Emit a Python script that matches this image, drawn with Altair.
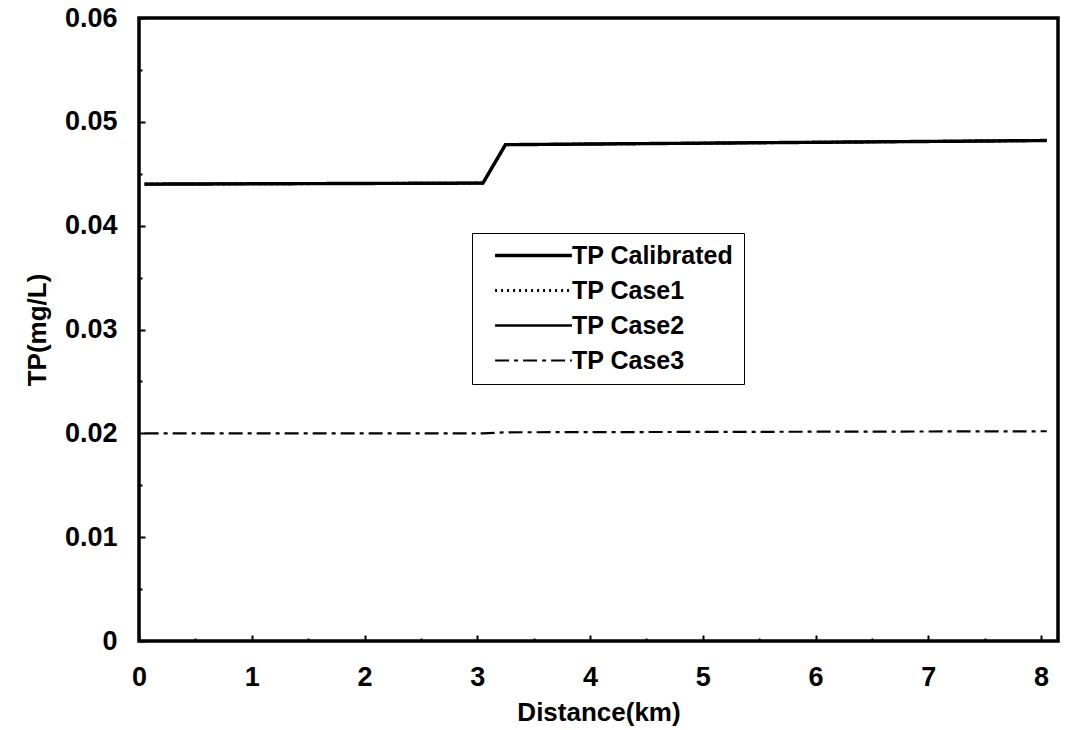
import altair as alt
import pandas as pd

# ---- data ----
distance_km = [0.05, 3.05, 3.25, 8.05]
tp_calibrated = [0.0440, 0.0441, 0.0478, 0.0482]
tp_case1 = [0.0440, 0.0441, 0.0478, 0.0482]
tp_case2 = [0.0440, 0.0441, 0.0478, 0.0482]
tp_case3 = [0.0200, 0.0200, 0.0201, 0.0202]
series_names = ["TP Calibrated", "TP Case1", "TP Case2", "TP Case3"]

x_tick_values = [0, 0.5, 1, 1.5, 2, 2.5, 3, 3.5, 4, 4.5, 5, 5.5, 6, 6.5, 7, 7.5, 8]
y_tick_values = [0, 0.005, 0.01, 0.015, 0.02, 0.025, 0.03, 0.035, 0.04, 0.045,
                 0.05, 0.055, 0.06]

series_values = {
    "TP Calibrated": tp_calibrated,
    "TP Case1": tp_case1,
    "TP Case2": tp_case2,
    "TP Case3": tp_case3,
}

rows = []
for order, name in enumerate(series_names):
    for d, v in zip(distance_km, series_values[name]):
        rows.append({"series": name, "distance": d, "tp": v, "ord": order})
df = pd.DataFrame(rows)

FONT = "Liberation Sans"

legend = alt.Legend(
    orient="none",
    legendX=333,
    legendY=215,
    title=None,
    symbolType="M-4.8,0H4.8",
    symbolSize=256,
    symbolStrokeColor="black",
    symbolOffset=39,
    labelOffset=26,
    labelLimit=400,
    labelFont=FONT,
    labelFontSize=25,
    labelFontWeight="bold",
    labelColor="black",
    rowPadding=9,
    padding=10,
    strokeColor="black",
    fillColor="white",
)

chart = alt.Chart(df).mark_line(color="black", strokeCap="butt").encode(
    x=alt.X(
        "distance:Q",
        title="Distance(km)",
        scale=alt.Scale(domain=[0, 8.15], nice=False, zero=False),
        axis=alt.Axis(
            values=x_tick_values,
            labelExpr="datum.value % 1 == 0 ? format(datum.value, 'd') : ''",
            domain=False,
            grid=False,
            offset=-6,
            tickSize=6,
            tickWidth=2,
            tickColor="black",
            tickDash={"condition": {"test": "datum.value % 1 != 0", "value": [0, 3, 3, 100]},
                      "value": [6, 0]},
            labelFont=FONT,
            labelFontSize=27,
            labelFontWeight="bold",
            labelColor="black",
            labelPadding=23,
            labelFlush=False,
            labelOverlap=False,
            titleFont=FONT,
            titleFontSize=26,
            titleFontWeight="bold",
            titleColor="black",
            titlePadding=9,
        ),
    ),
    y=alt.Y(
        "tp:Q",
        title="TP(mg/L)",
        scale=alt.Scale(domain=[0, 0.06], nice=False),
        axis=alt.Axis(
            values=y_tick_values,
            labelExpr="(round(datum.value * 1000) % 10 == 0) ? (datum.value == 0 ? '0' : format(datum.value, '.2f')) : ''",
            domain=False,
            grid=False,
            offset=-6,
            tickSize=6,
            tickWidth=2,
            tickColor="black",
            tickDash={"condition": {"test": "round(datum.value * 1000) % 10 != 0", "value": [0, 3, 3, 100]},
                      "value": [6, 0]},
            labelFont=FONT,
            labelFontSize=27,
            labelFontWeight="bold",
            labelColor="black",
            labelPadding=22,
            labelFlush=False,
            labelOverlap=False,
            titleFont=FONT,
            titleFontSize=26,
            titleFontWeight="bold",
            titleColor="black",
            titlePadding=14,
        ),
    ),
    strokeDash=alt.StrokeDash(
        "series:N",
        title=None,
        scale=alt.Scale(domain=series_names, range=[[1, 0], [2, 4], [1, 0], [14, 5, 4, 5]]),
        legend=legend,
    ),
    strokeWidth=alt.StrokeWidth(
        "series:N",
        title=None,
        scale=alt.Scale(domain=series_names, range=[3.4, 2.2, 2.2, 3.2]),
        legend=legend,
    ),
    order=alt.Order("ord:Q"),
).properties(
    width=919,
    height=623,
    autosize=alt.AutoSizeParams(type="none"),
    padding={"left": 139, "top": 18, "right": 10, "bottom": 89},
    background="white",
).configure_view(
    stroke="black",
    strokeWidth=3.5,
)

chart.save("out.html", embed_options={"renderer": "svg", "actions": False})
